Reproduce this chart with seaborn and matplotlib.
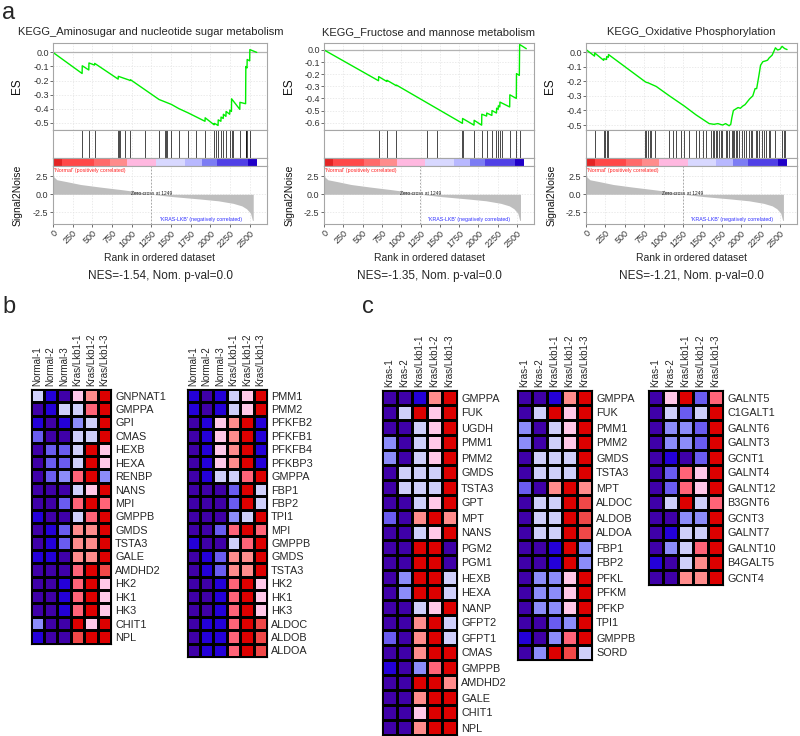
import numpy as np
import pandas as pd
import seaborn as sns
import matplotlib.pyplot as plt
from matplotlib.colors import ListedColormap

sns.set_theme(style='white')
plt.rcParams['font.family'] = ['Liberation Sans', 'DejaVu Sans']

# ---------------- panel a: GSEA plots ----------------
gsea_titles = ['KEGG_Aminosugar and nucleotide sugar metabolism',
               'KEGG_Fructose and mannose metabolism',
               'KEGG_Oxidative Phosphorylation']
gsea_nes = ['NES=-1.54, Nom. p-val=0.0',
            'NES=-1.35, Nom. p-val=0.0',
            'NES=-1.21, Nom. p-val=0.0']

# running enrichment score, vertices
amino_rank = [0, 370, 372, 455, 457, 528, 530, 828, 830, 985, 987, 1348, 1505, 1600, 1717,
              1825, 1932, 1934, 2048, 2050, 2070, 2098, 2100, 2134, 2136, 2164, 2166, 2198,
              2200, 2246, 2248, 2268, 2270, 2374, 2376, 2448, 2451, 2466, 2468, 2500, 2502, 2590]
amino_es = [0.0, -0.15, -0.095, -0.125, -0.075, -0.09, -0.078, -0.19, -0.17, -0.2, -0.195,
            -0.335, -0.37, -0.4, -0.43, -0.46, -0.49, -0.465, -0.515, -0.505, -0.51, -0.52,
            -0.48, -0.49, -0.46, -0.47, -0.44, -0.455, -0.42, -0.44, -0.41, -0.42, -0.33,
            -0.405, -0.355, -0.365, -0.10, -0.11, -0.05, -0.06, 0.02, 0.0]
amino_hits = [373, 458, 530, 827, 839, 856, 912, 984, 1174, 1348, 1429, 1442, 1455, 1505, 1598,
              1717, 1823, 1933, 2048, 2069, 2099, 2133, 2162, 2196, 2247, 2269, 2290, 2375,
              2451, 2458, 2468, 2502]

fruc_rank = [0, 706, 708, 813, 815, 937, 939, 1793, 1795, 1943, 1945, 2042, 2044, 2106, 2108,
             2174, 2176, 2234, 2236, 2256, 2258, 2277, 2279, 2405, 2407, 2491, 2493, 2530,
             2534, 2620]
fruc_es = [0.0, -0.254, -0.22, -0.26, -0.25, -0.295, -0.29, -0.605, -0.565, -0.62, -0.58,
           -0.62, -0.53, -0.545, -0.52, -0.54, -0.5, -0.52, -0.48, -0.49, -0.46, -0.47, -0.43,
           -0.47, -0.37, -0.40, -0.195, -0.21, 0.045, 0.01]
fruc_hits = [706, 813, 937, 1340, 1464, 1793, 1798, 1943, 2042, 2106, 2174, 2234, 2256, 2277,
             2311, 2405, 2491, 2534]

oxphos_rank = [0, 110, 112, 228, 230, 265, 267, 288, 290, 756, 777, 800, 841, 905, 1076, 1268,
               1418, 1588, 1650, 1700, 1760, 1800, 1845, 1866, 1880, 1900, 1930, 1960, 1990,
               2020, 2050, 2080, 2110, 2150, 2180, 2200, 2229, 2250, 2280, 2314, 2340, 2360,
               2400, 2442, 2470, 2500, 2528, 2560, 2592]
oxphos_es = [0.018, -0.027, -0.005, -0.056, -0.045, -0.05, -0.03, -0.035, -0.016, -0.2, -0.207,
             -0.21, -0.22, -0.235, -0.3, -0.37, -0.43, -0.49, -0.495, -0.49, -0.5, -0.49,
             -0.505, -0.495, -0.45, -0.40, -0.39, -0.38, -0.385, -0.37, -0.36, -0.34, -0.32,
             -0.3, -0.25, -0.25, -0.16, -0.09, -0.065, -0.06, -0.055, -0.04, -0.02, 0.03,
             0.015, 0.02, 0.04, 0.025, 0.018]
oxphos_hits = [115, 230, 248, 265, 290, 756, 777, 798, 820, 841, 884, 1076, 1119, 1161, 1225,
               1268, 1332, 1418, 1460, 1503, 1546, 1610, 1631, 1653, 1674, 1695, 1717, 1738,
               1759, 1802, 1823, 1845, 1879, 1896, 1913, 1930, 1952, 1973, 2016, 2037, 2059,
               2101, 2123, 2144, 2186, 2208, 2229, 2272, 2293, 2314, 2357, 2378, 2442, 2528,
               2549, 2570]

# ranked list metric (same ranking in the three plots)
s2n_rank = [0, 10, 50, 170, 350, 594, 900, 1100, 1249, 1500, 1866, 2100, 2290, 2400, 2460,
            2510, 2535, 2545]
s2n_val = [3.0, 2.4, 2.0, 1.75, 1.35, 1.0, 0.6, 0.3, 0.0, -0.3, -0.65, -0.9, -1.25, -1.6,
           -2.0, -2.6, -3.6, -3.6]
zero_cross = 1249

bar_edges = [0, 120, 520, 720, 940, 1310, 1680, 1890, 2090, 2480, 2590]
bar_colors = ['#E42424', '#FF4848', '#FF6A6A', '#FF8C8C', '#FFB8E0', '#D8D8FF',
              '#B8B8FF', '#7C7CF4', '#5040E6', '#2000C8']
rank_ticks = [0, 250, 500, 750, 1000, 1250, 1500, 1750, 2000, 2250, 2500]

# ---------------- panels b, c: heatmaps (colour level 0 = low ... 9 = high) ----------------
level_colors = ['#3F00A8', '#2400D8', '#6A5CF0', '#8C8CFA', '#CFCFFA',
                '#FFC8E8', '#FF8C8C', '#FF6478', '#F04848', '#DD0000']

b_cols = ['Normal-1', 'Normal-2', 'Normal-3', 'Kras/Lkb1-1', 'Kras/Lkb1-2', 'Kras/Lkb1-3']
b1_genes = ['GNPNAT1', 'GMPPA', 'GPI', 'CMAS', 'HEXB', 'HEXA', 'RENBP', 'NANS', 'MPI', 'GMPPB',
            'GMDS', 'TSTA3', 'GALE', 'AMDHD2', 'HK2', 'HK1', 'HK3', 'CHIT1', 'NPL']
b1_vals = [[4, 1, 0, 5, 6, 9], [0, 1, 4, 4, 7, 9], [1, 0, 1, 3, 4, 9], [2, 0, 0, 4, 4, 9],
           [0, 2, 2, 4, 9, 5], [0, 2, 2, 4, 9, 5], [0, 2, 3, 7, 9, 3], [0, 0, 0, 4, 5, 9],
           [0, 0, 2, 7, 9, 7], [1, 0, 0, 4, 7, 9], [0, 1, 2, 6, 6, 9], [0, 1, 2, 6, 6, 9],
           [1, 1, 0, 6, 6, 9], [0, 0, 0, 7, 9, 8], [0, 0, 1, 7, 9, 5], [0, 0, 1, 7, 9, 5],
           [0, 0, 1, 7, 9, 5], [3, 0, 0, 9, 5, 9], [1, 0, 0, 8, 9, 9]]
b2_genes = ['PMM1', 'PMM2', 'PFKFB2', 'PFKFB1', 'PFKFB4', 'PFKBP3', 'GMPPA', 'FBP1', 'FBP2',
            'TPI1', 'MPI', 'GMPPB', 'GMDS', 'TSTA3', 'HK2', 'HK1', 'HK3', 'ALDOC', 'ALDOB',
            'ALDOA']
b2_vals = [[1, 0, 1, 4, 5, 9], [1, 0, 1, 4, 5, 9], [0, 1, 5, 6, 9, 1], [0, 1, 5, 6, 9, 1],
           [0, 1, 5, 6, 9, 1], [0, 1, 5, 6, 9, 1], [0, 1, 4, 4, 7, 9], [0, 0, 0, 2, 9, 4],
           [0, 0, 0, 2, 9, 4], [0, 0, 0, 3, 4, 9], [0, 0, 2, 7, 9, 7], [1, 0, 0, 4, 7, 9],
           [0, 1, 2, 6, 6, 9], [0, 1, 2, 6, 6, 9], [0, 0, 1, 7, 9, 5], [0, 0, 1, 7, 9, 5],
           [0, 0, 1, 7, 9, 5], [0, 1, 1, 7, 9, 8], [0, 1, 1, 7, 9, 8], [0, 1, 1, 7, 9, 8]]

c_cols = ['Kras-1', 'Kras-2', 'Kras/Lkb1-1', 'Kras/Lkb1-2', 'Kras/Lkb1-3']
c1_genes = ['GMPPA', 'FUK', 'UGDH', 'PMM1', 'PMM2', 'GMDS', 'TSTA3', 'GPT', 'MPT', 'NANS',
            'PGM2', 'PGM1', 'HEXB', 'HEXA', 'NANP', 'GFPT2', 'GFPT1', 'CMAS', 'GMPPB',
            'AMDHD2', 'GALE', 'CHIT1', 'NPL']
c1_vals = [[0, 0, 1, 6, 9], [0, 4, 9, 5, 9], [0, 0, 4, 5, 9], [3, 0, 4, 5, 9], [3, 0, 4, 5, 9],
           [0, 4, 4, 4, 9], [0, 4, 4, 4, 9], [0, 0, 4, 5, 9], [2, 0, 6, 9, 6], [0, 0, 4, 5, 9],
           [0, 0, 9, 9, 0], [0, 0, 9, 9, 0], [0, 3, 9, 9, 4], [0, 3, 9, 9, 4], [0, 0, 4, 5, 9],
           [0, 0, 6, 9, 4], [2, 0, 6, 9, 4], [0, 0, 6, 9, 9], [1, 0, 3, 7, 9], [0, 0, 9, 9, 6],
           [0, 0, 6, 9, 9], [0, 0, 5, 9, 9], [0, 0, 6, 9, 9]]
c2_genes = ['GMPPA', 'FUK', 'PMM1', 'PMM2', 'GMDS', 'TSTA3', 'MPT', 'ALDOC', 'ALDOB', 'ALDOA',
            'FBP1', 'FBP2', 'PFKL', 'PFKM', 'PFKP', 'TPI1', 'GMPPB', 'SORD']
c2_vals = [[0, 0, 1, 6, 9], [0, 4, 9, 5, 9], [3, 0, 4, 5, 9], [3, 0, 4, 5, 9], [0, 4, 4, 4, 9],
           [0, 4, 4, 4, 9], [2, 0, 6, 9, 6], [0, 4, 4, 9, 8], [0, 4, 4, 9, 8], [0, 4, 4, 9, 8],
           [0, 0, 1, 9, 3], [0, 0, 1, 9, 3], [0, 3, 3, 5, 9], [0, 3, 3, 5, 9], [0, 3, 3, 5, 9],
           [0, 0, 2, 3, 9], [1, 0, 3, 7, 9], [0, 3, 9, 8, 4]]
c3_genes = ['GALNT5', 'C1GALT1', 'GALNT6', 'GALNT3', 'GCNT1', 'GALNT4', 'GALNT12', 'B3GNT6',
            'GCNT3', 'GALNT7', 'GALNT10', 'B4GALT5', 'GCNT4']
c3_vals = [[0, 5, 9, 2, 7], [0, 4, 2, 4, 9], [0, 3, 3, 2, 9], [0, 3, 3, 2, 9], [0, 1, 0, 2, 9],
           [0, 2, 7, 5, 9], [0, 2, 7, 5, 9], [0, 4, 9, 4, 7], [0, 0, 3, 3, 9], [0, 1, 4, 4, 9],
           [0, 3, 4, 7, 9], [1, 0, 4, 6, 9], [0, 0, 6, 6, 9]]

W, H = 800, 736
fig = plt.figure(figsize=(W / 100, H / 100), dpi=100)


def box(x0, y0, x1, y1):
    # axes from pixel box (top-left origin)
    return fig.add_axes([x0 / W, 1 - y1 / H, (x1 - x0) / W, (y1 - y0) / H])


def frame(ax, color='#A6A6A6'):
    for s in ax.spines.values():
        s.set_visible(True)
        s.set_color(color)
        s.set_linewidth(0.8)


def gsea_panel(x0, x1, title, title_x, es_rank, es_val, hits, es_lim, es_ticks, nes):
    xmax = 2720
    grid_kw = dict(color='#E3E3E3', lw=0.5, ls=(0, (2, 2)))

    ax_es = box(x0, 43, x1, 130)
    ax_es.grid(True, **grid_kw)
    ax_es.axhline(0, color='#B3B3B3', lw=0.9, zorder=1)
    sns.lineplot(x=es_rank, y=es_val, ax=ax_es, color='#00EE00', lw=1.0,
                 sort=False, estimator=None)
    ax_es.set_xlim(0, xmax)
    ax_es.set_ylim(*es_lim)
    ax_es.set_xticks(rank_ticks)
    ax_es.set_xticklabels([])
    ax_es.set_yticks(es_ticks)
    ax_es.set_yticklabels([f'{t:.1f}' for t in es_ticks])
    ax_es.tick_params(axis='y', left=True, length=2, width=0.5, labelsize=6.5, pad=1,
                      colors='#333333')
    ax_es.tick_params(axis='x', bottom=False, length=0)
    ax_es.set_xlabel('')
    ax_es.set_ylabel('ES', fontsize=8.5, color='#111111')
    ax_es.yaxis.set_label_coords(-0.14, 0.5)
    frame(ax_es)

    ax_h = box(x0, 130, x1, 158)
    ax_h.vlines(hits, 0, 1, color='black', lw=0.5)
    ax_h.set_xlim(0, xmax)
    ax_h.set_ylim(0, 1)
    ax_h.set_xticks(rank_ticks)
    ax_h.grid(True, axis='x', **grid_kw)
    ax_h.set_yticks([])
    ax_h.tick_params(axis='x', bottom=False, labelbottom=False)
    frame(ax_h)

    ax_b = box(x0, 158, x1, 166)
    for i, c in enumerate(bar_colors):
        ax_b.axvspan(bar_edges[i], bar_edges[i + 1], color=c, lw=0)
    ax_b.set_xlim(0, xmax)
    ax_b.set_xticks([])
    ax_b.set_yticks([])
    frame(ax_b)

    ax_m = box(x0, 166, x1, 224)
    ax_m.grid(True, **grid_kw)
    ax_m.fill_between(s2n_rank, s2n_val, 0, color='#BEBEBE', lw=0)
    ax_m.axvline(zero_cross, color='#9A9A9A', lw=0.6, ls=(0, (2, 2)))
    ax_m.text(zero_cross, 0.15, f'Zero cross at {zero_cross}', fontsize=3.5,
              ha='center', va='center', color='#222222')
    ax_m.text(15, 3.3, "'Normal' (positively correlated)", fontsize=3.8, color='#FF2020',
              ha='left', va='center')
    ax_m.text(1880, -3.5, "'KRAS-LKB' (negatively correlated)", fontsize=3.8,
              color='#3030FF', ha='center', va='center')
    ax_m.set_xlim(0, xmax)
    ax_m.set_ylim(-4.1, 3.9)
    ax_m.set_yticks([2.5, 0.0, -2.5])
    ax_m.set_yticklabels(['2.5', '0.0', '-2.5'])
    ax_m.set_xticks(rank_ticks)
    ax_m.set_xticklabels([str(t) for t in rank_ticks], rotation=45, ha='right',
                         rotation_mode='anchor')
    ax_m.tick_params(axis='both', length=2, width=0.5, labelsize=6.5, pad=1.5,
                     colors='#333333', left=True, bottom=True)
    ax_m.set_ylabel('Signal2Noise', fontsize=7.5, color='#111111')
    ax_m.yaxis.set_label_coords(-0.14, 0.5)
    frame(ax_m)

    xc = (x0 + x1) / 2 / W
    fig.text(title_x / W, 1 - 32 / H, title, fontsize=8, ha='center', va='center')
    fig.text(xc, 1 - 258 / H, 'Rank in ordered dataset', fontsize=7.5, ha='center',
             va='center')
    fig.text(xc, 1 - 276 / H, nes, fontsize=8.5, ha='center', va='center')


gsea_panel(53, 267, gsea_titles[0], 151, amino_rank, amino_es, amino_hits,
           (-0.552, 0.067), [0.0, -0.1, -0.2, -0.3, -0.4, -0.5], gsea_nes[0])
gsea_panel(324, 534, gsea_titles[1], 428, fruc_rank, fruc_es, fruc_hits,
           (-0.66, 0.057), [0.0, -0.1, -0.2, -0.3, -0.4, -0.5, -0.6], gsea_nes[1])
gsea_panel(586, 797, gsea_titles[2], 691, oxphos_rank, oxphos_es, oxphos_hits,
           (-0.534, 0.063), [0.0, -0.1, -0.2, -0.3, -0.4, -0.5], gsea_nes[2])

heat_cmap = ListedColormap(level_colors)


def heat(x0, y0, cell, genes, cols, vals):
    ax = box(x0, y0, x0 + cell * len(cols), y0 + cell * len(genes))
    df = pd.DataFrame(vals, index=genes, columns=cols)
    sns.heatmap(df, ax=ax, cmap=heat_cmap, vmin=-0.5, vmax=9.5, cbar=False,
                linewidths=0.8, linecolor='black', xticklabels=True, yticklabels=True)
    ax.tick_params(axis='x', top=True, labeltop=True, bottom=False, labelbottom=False,
                   labelrotation=90, labelsize=7, length=0, pad=2)
    ax.yaxis.tick_right()
    ax.tick_params(axis='y', labelrotation=0, labelsize=7.8, length=0, pad=3)
    ax.set_xlabel('')
    ax.set_ylabel('')
    frame(ax, 'black')


heat(30.6, 389, 13.4, b1_genes, b_cols, b1_vals)
heat(186.6, 389, 13.4, b2_genes, b_cols, b2_vals)
heat(382, 390, 15, c1_genes, c_cols, c1_vals)
heat(517, 390, 15, c2_genes, c_cols, c2_vals)
heat(648, 390, 15, c3_genes, c_cols, c3_vals)

fig.text(2 / W, 1 - 2 / H, 'a', fontsize=17, ha='left', va='top')
fig.text(2 / W, 1 - 296 / H, 'b', fontsize=17, ha='left', va='top')
fig.text(362 / W, 1 - 296 / H, 'c', fontsize=17, ha='left', va='top')

fig.savefig('out.png', dpi=100)
